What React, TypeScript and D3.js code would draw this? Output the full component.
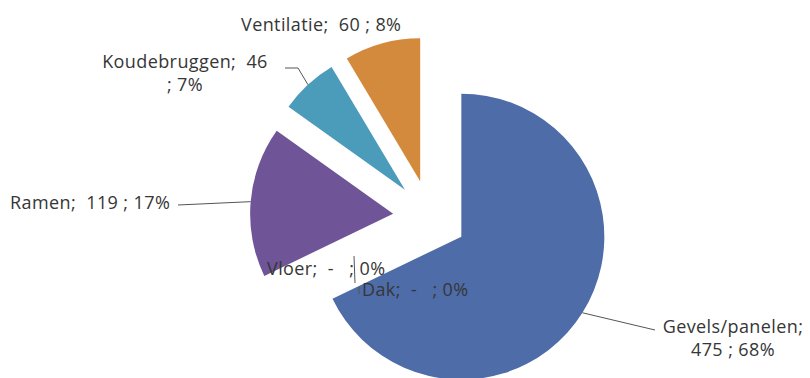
import { useEffect, useRef } from 'react'
import * as d3 from 'd3'

const categories = ['Gevels/panelen', 'Vloer', 'Dak', 'Ramen', 'Koudebruggen', 'Ventilatie']
const values = [475, 0, 0, 119, 46, 60]
const colors = ['#4e6ca8', '#c0504d', '#9bbb59', '#6f5497', '#4b9bbb', '#d48a3c']

// label placement (text lines, anchor, x, baseline y)
const labelLayout: Record<string, { lines: string[]; x: number; y: number; anchor: string }> = {
  'Gevels/panelen': { lines: ['Gevels/panelen;', '475 ; 68%'], x: 733, y: 333, anchor: 'middle' },
  Vloer: { lines: ['Vloer;  -   ; 0%'], x: 267, y: 275, anchor: 'start' },
  Dak: { lines: ['Dak;  -   ; 0%'], x: 362, y: 296, anchor: 'start' },
  Ramen: { lines: ['Ramen;  119 ; 17%'], x: 10, y: 209, anchor: 'start' },
  Koudebruggen: { lines: ['Koudebruggen;  46', '; 7%'], x: 185, y: 68, anchor: 'middle' },
  Ventilatie: { lines: ['Ventilatie;  60 ; 8%'], x: 241, y: 31, anchor: 'start' },
}

const W = 810
const H = 378

export default function App() {
  const svgRef = useRef<SVGSVGElement>(null)

  useEffect(() => {
    if (!svgRef.current) return
    d3.select(svgRef.current).selectAll('*').remove()

    const svg = d3.select(svgRef.current).attr('width', W).attr('height', H)

    const cx = 430
    const cy = 217
    const radius = 143
    const explode = 37

    const data = categories.map((c, i) => ({ name: c, value: values[i], color: colors[i] }))
    const pie = d3.pie<typeof data[0]>().sort(null).value((d) => d.value)
    const arcs = pie(data)
    const arc = d3.arc<d3.PieArcDatum<typeof data[0]>>().innerRadius(0).outerRadius(radius)

    const offset = (a: number, r: number) => [Math.sin(a) * r, -Math.cos(a) * r]

    const g = svg.append('g').attr('transform', `translate(${cx},${cy})`)

    arcs.forEach((d) => {
      if (d.value === 0) return
      const mid = (d.startAngle + d.endAngle) / 2
      const [ox, oy] = offset(mid, explode)
      g.append('path')
        .attr('d', arc(d) as string)
        .attr('transform', `translate(${ox},${oy})`)
        .attr('fill', d.data.color)
    })

    // leader lines
    const line = d3.line()
    const leader = (pts: [number, number][]) => {
      g.append('path')
        .attr('d', line(pts) as string)
        .attr('fill', 'none')
        .attr('stroke', '#555')
        .attr('stroke-width', 1)
    }
    const edgePoint = (i: number): [number, number] => {
      const d = arcs[i]
      const mid = (d.startAngle + d.endAngle) / 2
      const [ox, oy] = offset(mid, explode + radius)
      return [ox, oy]
    }
    const rel = (x: number, y: number): [number, number] => [x - cx, y - cy]

    leader([edgePoint(0), rel(655, 330)])
    leader([edgePoint(3), rel(178, 205)])
    leader([edgePoint(4), rel(298, 68), rel(285, 68)])
    leader([rel(354, 256), rel(355, 283)])
    leader([rel(359, 287), rel(359, 294)])

    // labels
    const labels = svg.append('g')
      .attr('font-family', '"Open Sans", Lato, sans-serif')
      .attr('font-size', 18)
      .attr('letter-spacing', 0.4)
      .attr('fill', '#363636')

    categories.forEach((c) => {
      const l = labelLayout[c]
      const t = labels.append('text')
        .attr('x', l.x)
        .attr('y', l.y)
        .attr('text-anchor', l.anchor)
      l.lines.forEach((s, j) => {
        t.append('tspan')
          .attr('x', l.x)
          .attr('dy', j === 0 ? 0 : 23)
          .style('white-space', 'pre')
          .text(s)
      })
    })
  }, [])

  return (
    <div style={{ position: 'absolute', left: 0, top: 0, width: W, height: H, background: '#fff' }}>
      <svg ref={svgRef} style={{ display: 'block' }} />
    </div>
  )
}
